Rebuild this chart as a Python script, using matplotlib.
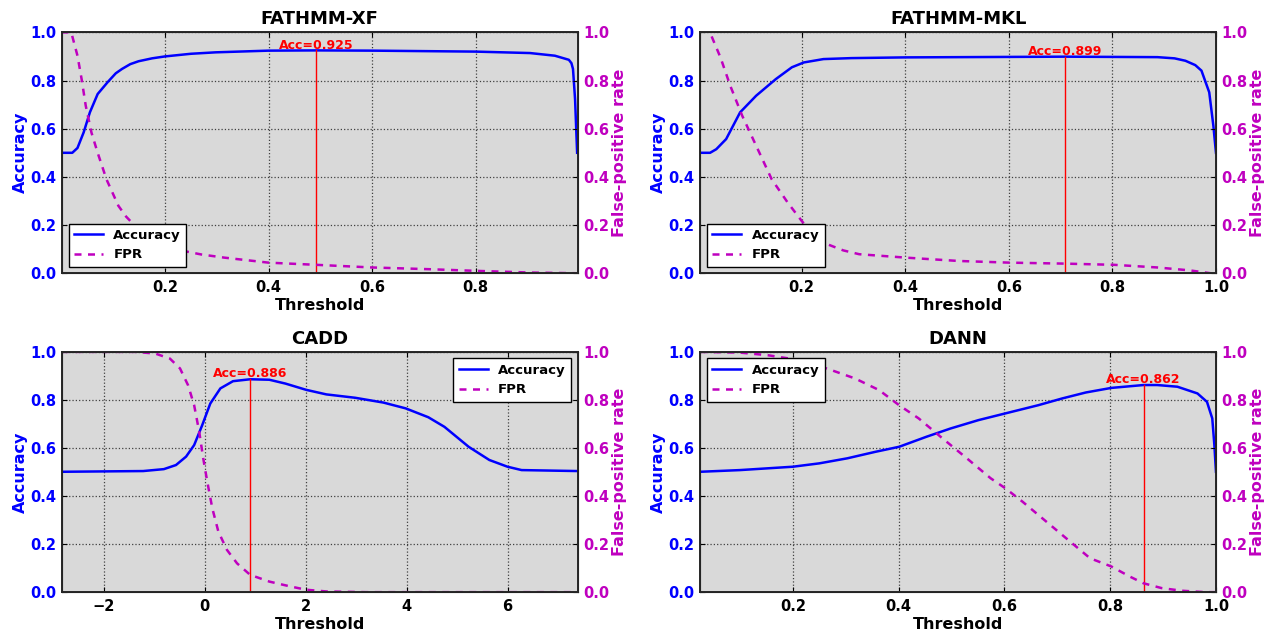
# -*- coding: utf-8 -*-
# accuracy / FPR vs threshold for four predictors
import numpy as np
import matplotlib
matplotlib.use('Agg')
import matplotlib.pyplot as plt

plt.rcParams['font.family'] = 'DejaVu Sans'
plt.rcParams['font.weight'] = 'bold'

#  data ->
xf_acc_t = [0.0, 0.021, 0.031, 0.043, 0.055, 0.07, 0.09, 0.105, 0.117, 0.133, 0.149,
            0.175, 0.2, 0.25, 0.298, 0.4, 0.492, 0.6, 0.8, 0.905, 0.953, 0.98, 0.985,
            0.988, 0.992, 0.996]
xf_acc = [0.50, 0.50, 0.52, 0.585, 0.668, 0.744, 0.795, 0.83, 0.848, 0.868, 0.88,
          0.892, 0.90, 0.911, 0.917, 0.924, 0.925, 0.924, 0.92, 0.914, 0.903, 0.886,
          0.872, 0.848, 0.723, 0.50]
xf_fpr_t = [0.0, 0.019, 0.031, 0.039, 0.047, 0.058, 0.07, 0.087, 0.11, 0.125, 0.142,
            0.16, 0.18, 0.205, 0.235, 0.27, 0.314, 0.4, 0.492, 0.6, 0.708, 0.8, 0.905,
            0.996]
xf_fpr = [1.0, 1.0, 0.903, 0.806, 0.695, 0.584, 0.50, 0.39, 0.28, 0.235, 0.197,
          0.165, 0.141, 0.115, 0.093, 0.078, 0.065, 0.044, 0.035, 0.024, 0.017, 0.01,
          0.003, 0.0]

mkl_acc_t = [0.004, 0.023, 0.035, 0.054, 0.081, 0.112, 0.15, 0.181, 0.204, 0.242, 0.296,
             0.4, 0.708, 0.887, 0.92, 0.941, 0.96, 0.972, 0.987, 0.995, 1.0]
mkl_acc = [0.50, 0.50, 0.515, 0.557, 0.668, 0.737, 0.806, 0.855, 0.875, 0.889, 0.893,
           0.896, 0.899, 0.897, 0.892, 0.882, 0.864, 0.841, 0.751, 0.612, 0.50]
mkl_fpr_t = [0.026, 0.043, 0.062, 0.085, 0.112, 0.142, 0.173, 0.2, 0.219, 0.25, 0.28,
             0.311, 0.4, 0.503, 0.602, 0.708, 0.803, 0.887, 0.949, 0.99]
mkl_fpr = [0.983, 0.896, 0.778, 0.654, 0.529, 0.39, 0.293, 0.217, 0.169, 0.12, 0.095,
           0.079, 0.065, 0.051, 0.044, 0.04, 0.035, 0.024, 0.012, 0.0]

cadd_acc_t = [-2.83, -1.22, -0.81, -0.57, -0.37, -0.21, -0.05, 0.11, 0.31, 0.56, 0.9,
              1.28, 1.6, 2.01, 2.41, 2.98, 3.54, 3.98, 4.43, 4.75, 5.23, 5.64, 6.0,
              6.28, 7.39]
cadd_acc = [0.501, 0.504, 0.512, 0.529, 0.564, 0.612, 0.695, 0.785, 0.848, 0.878, 0.886,
            0.884, 0.868, 0.842, 0.823, 0.809, 0.789, 0.765, 0.728, 0.688, 0.605, 0.55,
            0.522, 0.508, 0.504]
cadd_fpr_t = [-2.83, -1.38, -0.98, -0.69, -0.49, -0.33, -0.21, -0.11, -0.03, 0.05, 0.15,
              0.27, 0.44, 0.64, 0.9, 1.28, 1.69, 2.01, 2.41, 3.2, 7.39]
cadd_fpr = [1.0, 1.0, 0.993, 0.972, 0.931, 0.861, 0.778, 0.668, 0.557, 0.46, 0.349,
            0.252, 0.176, 0.12, 0.072, 0.044, 0.024, 0.01, 0.003, 0.0, 0.0]

dann_acc_t = [0.025, 0.1, 0.2, 0.25, 0.303, 0.356, 0.401, 0.453, 0.498, 0.551, 0.602,
              0.664, 0.709, 0.754, 0.802, 0.863, 0.889, 0.927, 0.965, 0.983, 0.993,
              0.997, 1.0]
dann_acc = [0.501, 0.508, 0.522, 0.536, 0.557, 0.584, 0.605, 0.647, 0.681, 0.716, 0.744,
            0.778, 0.806, 0.831, 0.85, 0.862, 0.862, 0.855, 0.827, 0.792, 0.723,
            0.612, 0.501]
dann_fpr_t = [0.025, 0.1, 0.153, 0.2, 0.235, 0.273, 0.318, 0.363, 0.401, 0.438, 0.483,
              0.529, 0.574, 0.602, 0.634, 0.679, 0.724, 0.762, 0.802, 0.837, 0.863,
              0.897, 0.935, 0.98, 1.0]
dann_fpr = [1.0, 0.997, 0.986, 0.97, 0.952, 0.924, 0.889, 0.841, 0.778, 0.723, 0.64,
            0.557, 0.474, 0.432, 0.377, 0.294, 0.211, 0.141, 0.107, 0.065, 0.037,
            0.017, 0.006, 0.0, 0.0]

titles = ['FATHMM-XF', 'FATHMM-MKL', 'CADD', 'DANN']
best_t = [0.492, 0.708, 0.9, 0.863]
best_acc = [0.925, 0.899, 0.886, 0.862]
xlims = [(0.001, 0.997), (0.004, 1.0), (-2.83, 7.39), (0.025, 1.0)]
legend_locs = ['lower left', 'lower left', 'upper right', 'upper left']
#  <- data

series = [(xf_acc_t, xf_acc, xf_fpr_t, xf_fpr),
          (mkl_acc_t, mkl_acc, mkl_fpr_t, mkl_fpr),
          (cadd_acc_t, cadd_acc, cadd_fpr_t, cadd_fpr),
          (dann_acc_t, dann_acc, dann_fpr_t, dann_fpr)]

# axes boxes in figure fractions [left, bottom, width, height]
boxes = [[0.049, 0.569, 0.408, 0.380],
         [0.554, 0.569, 0.408, 0.380],
         [0.049, 0.066, 0.408, 0.379],
         [0.554, 0.066, 0.408, 0.379]]

mag = (0.75, 0, 0.75)

fig = plt.figure(figsize=(12.64, 6.34), dpi=100)

for i in range(4):
    at, acc, ft, fpr = series[i]
    ax = fig.add_axes(boxes[i])
    ax.set_facecolor('#d9d9d9')
    ax2 = ax.twinx()

    l1, = ax.plot(at, acc, color='b', lw=1.8, label='Accuracy')
    l2, = ax2.plot(ft, fpr, color=mag, lw=1.8, ls=(0, (2.8, 2.6)), label='FPR')

    ax.plot([best_t[i], best_t[i]], [0, best_acc[i]], color='r', lw=1.0)
    ax.text(best_t[i], best_acc[i] - 0.005, 'Acc=%.3f' % best_acc[i], color='r',
            fontsize=9, fontweight='bold', ha='center', va='bottom')

    ax.set_xlim(xlims[i])
    ax.set_ylim(0, 1)
    ax2.set_ylim(0, 1)
    ax.set_yticks(np.arange(0, 1.01, 0.2))
    ax2.set_yticks(np.arange(0, 1.01, 0.2))
    ax.grid(True, linestyle=':', color='0.25', lw=0.9)

    ax.set_title(titles[i], fontsize=13, fontweight='bold')
    ax.set_xlabel('Threshold', fontsize=11.5, fontweight='bold', labelpad=2)
    ax.set_ylabel('Accuracy', color='b', fontsize=11.5, fontweight='bold', labelpad=2)
    ax2.set_ylabel('False-positive rate', color=mag, fontsize=11.5, fontweight='bold',
                   labelpad=2)

    ax.tick_params(axis='x', direction='in', top=True, labelsize=10.5, pad=5)
    ax.tick_params(axis='y', direction='in', labelcolor='b', labelsize=10.5, pad=4)
    ax2.tick_params(axis='y', direction='in', labelcolor=mag, labelsize=10.5, pad=4)
    for lab in ax.get_xticklabels() + ax.get_yticklabels() + ax2.get_yticklabels():
        lab.set_fontweight('bold')
    for sp in ax2.spines.values():
        sp.set_linewidth(1.4)
        sp.set_color('0.15')

    leg = ax2.legend([l1, l2], ['Accuracy', 'FPR'], loc=legend_locs[i], fontsize=9.5,
                     fancybox=False, framealpha=1, edgecolor='k', handlelength=2.2)
    leg.get_frame().set_linewidth(1.0)
    for t in leg.get_texts():
        t.set_fontweight('bold')

fig.savefig('out.png', dpi=100, facecolor='white')
